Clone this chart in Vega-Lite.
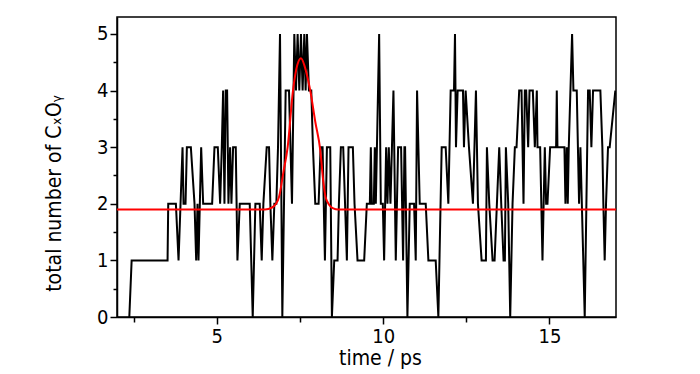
{
  "$schema": "https://vega.github.io/schema/vega-lite/v6.json",
  "width": 499,
  "height": 300,
  "autosize": "none",
  "padding": {"left": 117, "top": 17, "right": 84, "bottom": 57},
  "background": "white",
  "config": {
    "view": {"stroke": "black", "strokeWidth": 1.5},
    "font": "Liberation Sans Narrow, DejaVu Sans Condensed, sans-serif",
    "axis": {
      "grid": false,
      "domainColor": "black",
      "domainWidth": 1.5,
      "tickColor": "black",
      "tickWidth": 1.5,
      "labelColor": "black",
      "titleColor": "black",
      "labelFont": "Liberation Sans Narrow, DejaVu Sans Condensed, sans-serif",
      "titleFont": "Liberation Sans Narrow, DejaVu Sans Condensed, sans-serif",
      "labelFontSize": 20,
      "titleFontSize": 21,
      "titleFontWeight": "normal"
    }
  },
  "datasets": {
    "counts": [
      {"t":2.37,"n":0},{"t":2.44,"n":1},{"t":3.52,"n":1},{"t":3.54,"n":2},{"t":3.77,"n":2},{"t":3.85,"n":1},{"t":3.97,"n":3},{"t":4.00,"n":2},{"t":4.06,"n":2},{"t":4.10,"n":3},
      {"t":4.22,"n":3},{"t":4.33,"n":2},{"t":4.38,"n":1},{"t":4.42,"n":2},{"t":4.45,"n":1},{"t":4.53,"n":3},{"t":4.59,"n":2},{"t":4.86,"n":2},{"t":4.93,"n":3},{"t":5.03,"n":3},
      {"t":5.10,"n":2},{"t":5.15,"n":3},{"t":5.19,"n":4},{"t":5.23,"n":2},{"t":5.27,"n":4},{"t":5.31,"n":4},{"t":5.35,"n":2},{"t":5.40,"n":3},{"t":5.44,"n":2},{"t":5.49,"n":3},
      {"t":5.57,"n":3},{"t":5.62,"n":1},{"t":5.69,"n":2},{"t":5.99,"n":2},{"t":6.08,"n":0},{"t":6.16,"n":2},{"t":6.29,"n":2},{"t":6.35,"n":1},{"t":6.40,"n":2},{"t":6.50,"n":3},
      {"t":6.57,"n":3},{"t":6.61,"n":2},{"t":6.67,"n":1},{"t":6.73,"n":2},{"t":6.79,"n":2},{"t":6.84,"n":3},{"t":6.90,"n":5},{"t":6.97,"n":0},{"t":7.07,"n":4},{"t":7.17,"n":4},
      {"t":7.26,"n":2},{"t":7.33,"n":5},{"t":7.38,"n":4},{"t":7.43,"n":5},{"t":7.48,"n":4},{"t":7.53,"n":5},{"t":7.58,"n":4},{"t":7.63,"n":5},{"t":7.67,"n":4},{"t":7.71,"n":5},
      {"t":7.77,"n":4},{"t":7.84,"n":4},{"t":7.89,"n":3},{"t":7.96,"n":2},{"t":8.06,"n":2},{"t":8.12,"n":3},{"t":8.18,"n":3},{"t":8.25,"n":1},{"t":8.31,"n":3},{"t":8.41,"n":3},
      {"t":8.46,"n":0},{"t":8.53,"n":1},{"t":8.63,"n":1},{"t":8.67,"n":2},{"t":8.73,"n":3},{"t":8.80,"n":3},{"t":8.91,"n":1},{"t":8.96,"n":3},{"t":9.09,"n":3},{"t":9.14,"n":2},
      {"t":9.23,"n":1},{"t":9.43,"n":1},{"t":9.51,"n":2},{"t":9.60,"n":2},{"t":9.63,"n":3},{"t":9.66,"n":2},{"t":9.72,"n":2},{"t":9.75,"n":3},{"t":9.78,"n":2},{"t":9.88,"n":5},
      {"t":9.93,"n":2},{"t":9.99,"n":2},{"t":10.03,"n":1},{"t":10.09,"n":3},{"t":10.13,"n":2},{"t":10.17,"n":3},{"t":10.22,"n":2},{"t":10.31,"n":4},{"t":10.38,"n":1},{"t":10.45,"n":3},
      {"t":10.54,"n":3},{"t":10.60,"n":1},{"t":10.64,"n":3},{"t":10.66,"n":3},{"t":10.73,"n":0},{"t":10.80,"n":2},{"t":10.93,"n":2},{"t":10.98,"n":1},{"t":11.02,"n":4},{"t":11.10,"n":2},
      {"t":11.28,"n":2},{"t":11.36,"n":1},{"t":11.58,"n":1},{"t":11.66,"n":0},{"t":11.76,"n":3},{"t":11.88,"n":3},{"t":11.96,"n":2},{"t":12.03,"n":4},{"t":12.13,"n":4},{"t":12.16,"n":5},
      {"t":12.19,"n":3},{"t":12.24,"n":4},{"t":12.40,"n":4},{"t":12.43,"n":3},{"t":12.48,"n":4},{"t":12.58,"n":3},{"t":12.70,"n":2},{"t":12.79,"n":4},{"t":12.85,"n":2},{"t":12.96,"n":1},
      {"t":13.09,"n":1},{"t":13.12,"n":3},{"t":13.19,"n":2},{"t":13.29,"n":1},{"t":13.35,"n":1},{"t":13.42,"n":2},{"t":13.49,"n":3},{"t":13.55,"n":2},{"t":13.62,"n":1},{"t":13.66,"n":1},
      {"t":13.69,"n":3},{"t":13.76,"n":2},{"t":13.82,"n":0},{"t":13.89,"n":2},{"t":13.96,"n":3},{"t":14.01,"n":3},{"t":14.09,"n":4},{"t":14.16,"n":4},{"t":14.22,"n":2},{"t":14.26,"n":4},
      {"t":14.30,"n":4},{"t":14.36,"n":3},{"t":14.40,"n":4},{"t":14.50,"n":4},{"t":14.56,"n":3},{"t":14.62,"n":4},{"t":14.64,"n":3},{"t":14.72,"n":3},{"t":14.79,"n":1},{"t":14.86,"n":3},
      {"t":14.90,"n":2},{"t":14.94,"n":2},{"t":15.02,"n":3},{"t":15.20,"n":3},{"t":15.22,"n":4},{"t":15.24,"n":3},{"t":15.45,"n":3},{"t":15.48,"n":2},{"t":15.52,"n":3},{"t":15.55,"n":2},
      {"t":15.58,"n":3},{"t":15.68,"n":5},{"t":15.72,"n":4},{"t":15.82,"n":4},{"t":15.89,"n":2},{"t":15.93,"n":3},{"t":16.06,"n":0},{"t":16.16,"n":4},{"t":16.21,"n":4},{"t":16.26,"n":3},
      {"t":16.31,"n":4},{"t":16.53,"n":4},{"t":16.59,"n":3},{"t":16.62,"n":2},{"t":16.66,"n":1},{"t":16.70,"n":2},{"t":16.76,"n":3},{"t":16.81,"n":3},{"t":16.98,"n":4}
    ],
    "fit": [
      {"t":2.0,"n":1.9},{"t":6.45,"n":1.9},{"t":6.65,"n":1.93},{"t":6.78,"n":2.0},{"t":6.87,"n":2.12},{"t":7.0,"n":2.55},{"t":7.13,"n":3.0},{"t":7.29,"n":4.0},{"t":7.42,"n":4.45},{"t":7.53,"n":4.57},
      {"t":7.63,"n":4.45},{"t":7.72,"n":4.25},{"t":7.81,"n":4.0},{"t":7.96,"n":3.45},{"t":8.11,"n":2.95},{"t":8.20,"n":2.4},{"t":8.27,"n":2.12},{"t":8.38,"n":1.98},{"t":8.5,"n":1.92},{"t":8.65,"n":1.9},
      {"t":17.0,"n":1.9}
    ]
  },
  "encoding": {
    "x": {
      "field": "t", "type": "quantitative",
      "scale": {"domain": [2, 17], "nice": false, "zero": false},
      "axis": {
        "title": "time / ps",
        "values": [2.5, 5, 7.5, 10, 12.5, 15],
        "labelExpr": "datum.value % 5 == 0 ? format(datum.value, 'd') : ''",
        "tickSize": {"condition": {"test": "datum.value % 5 == 0", "value": 7}, "value": 5},
        "labelPadding": 2,
        "labelFlush": false,
        "titleX": 263,
        "titleY": 30,
        "titleBaseline": "top"
      }
    },
    "y": {
      "field": "n", "type": "quantitative",
      "scale": {"domain": [0, 5.3], "nice": false, "zero": false},
      "axis": {
        "title": "total number of CₓOᵧ",
        "values": [0, 0.5, 1, 1.5, 2, 2.5, 3, 3.5, 4, 4.5, 5],
        "labelExpr": "datum.value % 1 == 0 ? format(datum.value, 'd') : ''",
        "tickSize": {"condition": {"test": "datum.value % 1 == 0", "value": 7}, "value": 4},
        "labelPadding": 2,
        "labelFlush": false,
        "titleX": -57,
        "titleY": 176,
        "titleBaseline": "alphabetic",
        "titleAngle": -90,
        "titleAlign": "center"
      }
    }
  },
  "layer": [
    {"data": {"name": "counts"}, "mark": {"type": "line", "color": "black", "strokeWidth": 2, "clip": true}},
    {"data": {"name": "fit"}, "mark": {"type": "line", "color": "#ff0000", "strokeWidth": 2, "interpolate": "monotone", "clip": true}}
  ]
}
